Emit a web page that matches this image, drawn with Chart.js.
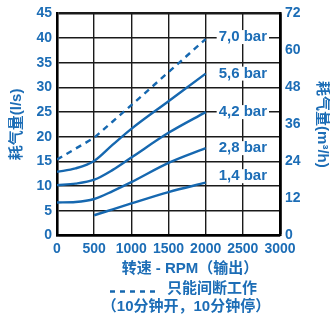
<!DOCTYPE html>
<html><head><meta charset="utf-8">
<script src="https://cdn.jsdelivr.net/npm/chart.js@4/dist/chart.umd.min.js"></script>
<style>html,body{margin:0;padding:0;background:#fff;}canvas{display:block;}</style>
</head><body>
<canvas id="c" width="330" height="318"></canvas>
<script>
// ---- data ----
const RPM = [0, 250, 500, 750, 1000, 1500, 2000];
const SERIES_LABELS = ['7,0 bar', '5,6 bar', '4,2 bar', '2,8 bar', '1,4 bar'];
const S70 = [15.4, 17.6, 19.8, 23.1, 26.4, 33.1, 39.8];
const S56 = [12.9, 13.6, 15.1, 18.4, 21.6, 27.2, 32.8];
const S42 = [10.2, 10.5, 11.3, 13.3, 15.8, 20.8, 25.0];
const S28 = [6.7, 6.8, 7.4, 9.0, 10.8, 14.7, 17.7];
const S14 = [null, null, 4.1, 5.3, 6.5, 8.8, 10.7];
const X_TICKS = [0, 500, 1000, 1500, 2000, 2500, 3000];
const Y_LEFT_TICKS = [0, 5, 10, 15, 20, 25, 30, 35, 40, 45];
const Y_RIGHT_TICKS = [0, 12, 24, 36, 48, 60, 72];
const X_TITLE = '转速 - RPM（输出）';
const Y_LEFT_TITLE = '耗气量(l/s)';
const Y_RIGHT_TITLE = '耗气量(m³/h)';
const NOTE_1 = '只能间断工作';
const NOTE_2 = '（10分钟开，10分钟停）';

// ---- style ----
const BLUE_TXT = '#1c6db6';
const BLUE_LINE = '#1668b0';
const FONT_FAM = '"Liberation Sans", Arial, "Noto Sans CJK SC", sans-serif';
const CJK_FAM = '"Liberation Sans", "Noto Sans CJK SC", sans-serif';

const mk = (label, data, dashed) => ({
  label, data: RPM.map((x, i) => ({x, y: data[i]})),
  borderColor: BLUE_LINE, borderWidth: 2.4, pointRadius: 0, fill: false,
  spanGaps: true, cubicInterpolationMode: dashed ? 'default' : 'monotone',
  tension: 0, borderDash: dashed ? [6, 5] : [], borderCapStyle: 'butt'
});

const labelOffsets = [-2, 0, 0, 0, -6.5];

const annot = {
  id: 'annot',
  afterDraw(chart) {
    const ctx = chart.ctx;
    const xs = chart.scales.x;
    ctx.save();
    // series labels
    ctx.font = 'bold 15px ' + FONT_FAM;
    ctx.textBaseline = 'middle';
    ctx.textAlign = 'left';
    chart.data.datasets.forEach((ds, i) => {
      const meta = chart.getDatasetMeta(i);
      const pt = meta.data[meta.data.length - 1];
      const x = xs.getPixelForValue(2000) + 13;
      const y = pt.y + labelOffsets[i];
      const w = ctx.measureText(ds.label).width;
      ctx.fillStyle = '#fff';
      ctx.fillRect(x - 2, y - 7, w + 4, 14);
      ctx.fillStyle = BLUE_TXT;
      ctx.fillText(ds.label, x, y);
    });
    // x title & notes
    ctx.textAlign = 'center';
    ctx.font = 'bold 15px ' + CJK_FAM;
    ctx.fillText(X_TITLE, 190, 269);
    // dashed sample
    ctx.strokeStyle = BLUE_LINE;
    ctx.lineWidth = 2.4;
    ctx.setLineDash([5, 5]);
    ctx.beginPath();
    ctx.moveTo(110, 291.5);
    ctx.lineTo(156, 291.5);
    ctx.stroke();
    ctx.setLineDash([]);
    ctx.textAlign = 'left';
    ctx.fillText(NOTE_1, 167, 289);
    ctx.textAlign = 'center';
    ctx.fillText(NOTE_2, 186, 307);
    ctx.restore();
  }
};

const tickFont = {family: FONT_FAM, size: 14, weight: 'bold'};
const titleFont = {family: CJK_FAM, size: 15, weight: 'bold', lineHeight: 1.2};
const plain = v => String(v);

new Chart(document.getElementById('c'), {
  type: 'line',
  data: {
    datasets: [mk(SERIES_LABELS[0], S70, true), mk(SERIES_LABELS[1], S56), mk(SERIES_LABELS[2], S42),
               mk(SERIES_LABELS[3], S28), mk(SERIES_LABELS[4], S14)]
  },
  options: {
    responsive: false, animation: false, devicePixelRatio: 1,
    layout: {padding: {top: 13, left: 0, right: 0, bottom: 0}},
    plugins: {legend: {display: false}, tooltip: {enabled: false}},
    scales: {
      x: {
        type: 'linear', position: 'bottom', min: 0, max: 3000,
        afterBuildTicks: s => { s.ticks = X_TICKS.map(v => ({value: v})); },
        afterFit: s => { s.height = 82.5; },
        ticks: {font: tickFont, color: BLUE_TXT, padding: 5, maxRotation: 0, autoSkip: false, callback: plain},
        grid: {color: '#1a1a1a', drawTicks: false,
               lineWidth: c => (c.tick && c.tick.value === 3000) ? 2.6 : 1.4},
        border: {color: '#000', width: 2.6}
      },
      y: {
        position: 'left', min: 0, max: 45,
        afterBuildTicks: s => { s.ticks = Y_LEFT_TICKS.map(v => ({value: v})); },
        afterFit: s => { s.width = 57; },
        ticks: {font: tickFont, color: BLUE_TXT, padding: 5, callback: plain},
        grid: {color: '#1a1a1a', drawTicks: false,
               lineWidth: c => (c.tick && c.tick.value === 45) ? 2.6 : 1.4},
        border: {color: '#000', width: 2.6},
        title: {display: true, text: Y_LEFT_TITLE, color: BLUE_TXT, font: titleFont, padding: {top: 8, bottom: 0}}
      },
      y2: {
        position: 'right', min: 0, max: 72,
        afterBuildTicks: s => { s.ticks = Y_RIGHT_TICKS.map(v => ({value: v})); },
        afterFit: s => { s.width = 50; },
        ticks: {font: tickFont, color: BLUE_TXT, padding: 5, callback: plain},
        grid: {display: false, drawTicks: false},
        border: {display: true, color: '#000', width: 2.6},
        title: {display: true, text: Y_RIGHT_TITLE, color: BLUE_TXT,
                font: {family: CJK_FAM, size: 15, weight: 'bold', lineHeight: 1.0}, padding: {top: 0.5, bottom: 0}}
      }
    }
  },
  plugins: [annot]
});
</script>
</body></html>
